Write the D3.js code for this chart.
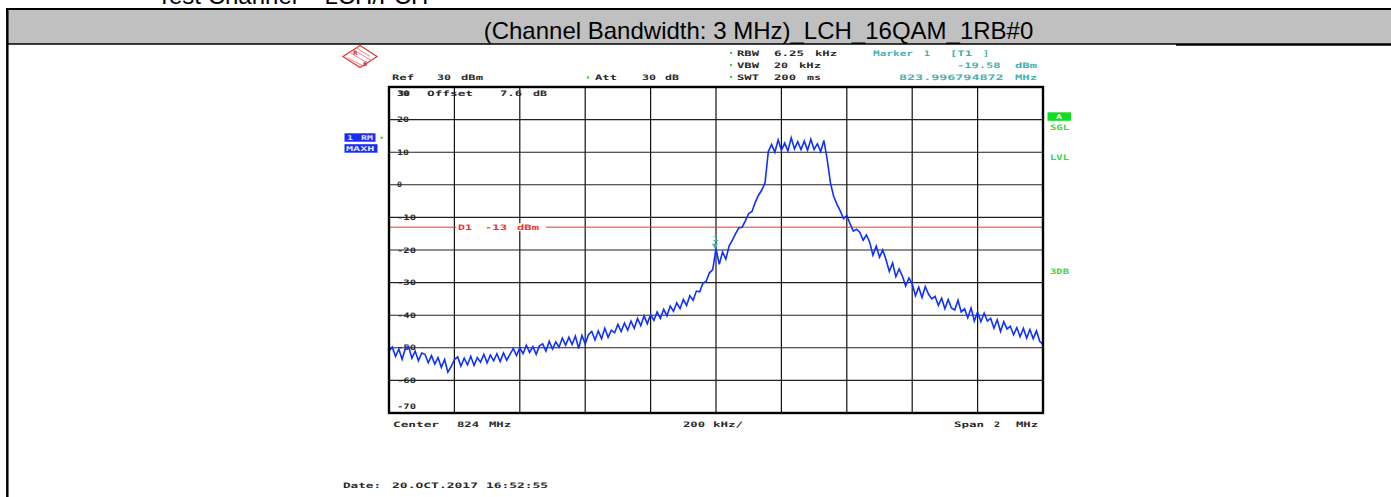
<!DOCTYPE html>
<html><head><meta charset="utf-8">
<script src="https://cdn.jsdelivr.net/npm/d3@7"></script>
<style>html,body{margin:0;padding:0;background:#fff;}svg{display:block;}</style>
</head><body>
<script>
// ---- data ----
const centerMHz = 824;
const spanMHz = 2;
const xGridMHz = [823.2, 823.4, 823.6, 823.8, 824.0, 824.2, 824.4, 824.6, 824.8];
const yGridDbm = [20, 10, 0, -10, -20, -30, -40, -50, -60];
const yTickLabels = ["30", "20", "10", "0", "-10", "-20", "-30", "-40", "-50", "-60", "-70"];
const yTickValues = [30, 20, 10, 0, -10, -20, -30, -40, -50, -60, -70];
const displayLineDbm = -13;
const markerFreqMHz = 823.996794872;
const markerDbm = -19.58;
const traceDbm = [
 -51.0,-49.8,-52.6,-50.4,-53.5,-50.2,-49.6,-53.2,-51.0,-54.0,-51.6,
 -52.0,-54.6,-52.4,-55.0,-53.0,-56.0,-53.6,-57.5,
 -55.8,-53.6,-52.8,-55.6,-53.2,-55.2,-52.6,-55.4,-53.0,-54.4,
 -52.0,-54.6,-52.2,-54.0,-51.8,-54.2,-51.6,-53.8,-52.0,-50.2,
 -52.4,-50.0,-51.8,-49.2,-51.4,-49.6,-52.0,-49.4,-48.8,-51.0,
 -48.0,-50.4,-48.2,-49.8,-47.0,-49.2,
 -46.8,-49.0,-46.4,-50.2,-46.2,-48.8,-46.0,
 -45.0,-47.6,-44.8,-47.2,-44.0,-46.8,-44.6,
 -45.4,-42.8,-45.0,-42.4,-44.6,-41.8,-44.0,
 -41.0,-43.2,-40.2,-42.6,-39.8,-41.6,
 -39.0,-41.0,-38.2,-40.2,-37.2,
 -38.8,-36.2,-38.0,-35.2,-37.0,-34.0,
 -35.4,-32.6,-32.8,-30.2,-29.6,
 -27.0,-26.0,-19.6,
 -24.4,-20.6,-22.8,
 -18.8,-17.0,
 -15.0,-13.2,-13.0,
 -11.0,-8.8,-8.2,
 -5.4,-3.2,
 -1.6,0.6,
 10.2,12.4,10.0,13.8,10.6,12.8,10.4,14.4,11.0,13.2,10.8,13.4,10.6,14.0,10.8,12.6,10.2,13.6,
 7.8,0.6,
 -3.6,-6.0,
 -8.0,-10.4,-9.4,
 -12.0,-14.2,-13.6,
 -14.6,-17.0,-15.4,
 -17.6,-21.6,-18.8,-22.2,-20.0,
 -23.0,-26.6,-24.0,-28.2,-25.8,
 -28.0,-31.0,-28.6,
 -30.4,-34.0,-31.4,-34.6,-31.2,-33.6,-35.0,
 -34.2,-37.0,-34.8,-38.0,-35.2,-37.8,-38.4,-35.4,-39.0,
 -38.0,-40.8,-37.8,-41.8,-39.0,-42.0,-39.4,-41.8,
 -41.0,-44.0,-41.4,-45.0,-42.0,-44.2,
 -43.4,-46.0,-43.8,-46.6,-44.0,-47.0,-44.4,-47.2,-44.8,-48.0,
 -49.0
];
const titleText = "(Channel Bandwidth: 3 MHz)_LCH_16QAM_1RB#0";
const topCutText = "Test Channel = LCH/FCH";

// ---- drawing ----
const W = 1391, H = 497;
const svg = d3.select("body").append("svg").attr("width", W).attr("height", H);
svg.append("rect").attr("width", W).attr("height", H).attr("fill", "#fff");

// Title bar
svg.append("text").attr("x", 157).attr("y", 4).attr("font-family", "Liberation Sans, Arial, sans-serif")
  .attr("font-size", 24).attr("fill", "#000").text(topCutText);
svg.append("rect").attr("x", 8).attr("y", 9).attr("width", W - 8).attr("height", 35).attr("fill", "#c0c0c0");
svg.append("line").attr("x1", 6).attr("x2", W).attr("y1", 9).attr("y2", 9).attr("stroke", "#000").attr("stroke-width", 2);
svg.append("line").attr("x1", 8).attr("x2", 1176).attr("y1", 44).attr("y2", 44).attr("stroke", "#000").attr("stroke-width", 1.5);
svg.append("line").attr("x1", 1176).attr("x2", W).attr("y1", 44.5).attr("y2", 44.5).attr("stroke", "#000").attr("stroke-width", 2.5);
svg.append("line").attr("x1", 7.3).attr("x2", 7.3).attr("y1", 8).attr("y2", H).attr("stroke", "#000").attr("stroke-width", 2.5);
svg.append("text").attr("x", 758.5).attr("y", 38.5).attr("text-anchor", "middle")
  .attr("font-family", "Liberation Sans, Arial, sans-serif").attr("font-size", 24).attr("fill", "#000").text(titleText);

// scales
const x = d3.scaleLinear().domain([centerMHz - spanMHz / 2, centerMHz + spanMHz / 2]).range([389, 1043]);
const y = d3.scaleLinear().domain([-70, 30]).range([413, 87]);
const xi = d3.scaleLinear().domain([0, traceDbm.length - 1]).range(x.domain());

// instrument-style text helper
function rs(txt, tx, ty, color, opt) {
  opt = opt || {};
  const adv = opt.adv || 8;
  const t = svg.append("text").attr("x", tx).attr("y", ty).attr("dy", "0.35em")
    .attr("font-family", "DejaVu Sans Mono, Liberation Mono, monospace").attr("font-weight", "bold")
    .attr("font-size", opt.size || 7.5).attr("fill", color || "#2a2a2a").text(txt);
  if (opt.anchor) t.attr("text-anchor", opt.anchor);
  t.attr("textLength", txt.length * adv - 2).attr("lengthAdjust", "spacingAndGlyphs");
  return t;
}

// grid
const g = svg.append("g");
g.selectAll("line.vg").data(xGridMHz).join("line").attr("class", "vg")
  .attr("x1", d => x(d)).attr("x2", d => x(d)).attr("y1", y(30)).attr("y2", y(-70))
  .attr("stroke", "#111").attr("stroke-width", 1.2);
g.selectAll("line.hg").data(yGridDbm).join("line").attr("class", "hg")
  .attr("x1", x.range()[0]).attr("x2", x.range()[1]).attr("y1", d => y(d)).attr("y2", d => y(d))
  .attr("stroke", "#222").attr("stroke-width", 1.1);

// display line D1
g.append("line").attr("x1", x.range()[0]).attr("x2", x.range()[1]).attr("y1", y(displayLineDbm)).attr("y2", y(displayLineDbm))
  .attr("stroke", "#f23030").attr("stroke-width", 1);

// y tick labels
yTickValues.forEach((v, i) => {
  let ty = y(v);
  if (v === 30) ty = y(30) + 6;
  if (v === -70) ty = y(-70) - 7;
  rs(yTickLabels[i], 397, ty, "#2a2a2a", { adv: 7 });
});

// header texts
rs("Ref", 392, 77.5); rs("30", 437, 77.5); rs("dBm", 461, 77.5);
svg.append("circle").attr("cx", 588).attr("cy", 77.5).attr("r", 1.2).attr("fill", "#3ad03a");
rs("Att", 595, 77.5); rs("30", 642, 77.5); rs("dB", 665, 77.5);
[53, 65, 77].forEach(cy => svg.append("circle").attr("cx", 731).attr("cy", cy).attr("r", 1.2).attr("fill", "#3ad03a"));
rs("RBW", 737, 53); rs("6.25", 774, 53); rs("kHz", 815, 53);
rs("VBW", 737, 65); rs("20", 774, 65); rs("kHz", 799, 65);
rs("SWT", 737, 77); rs("200", 774, 77); rs("ms", 807, 77);
const teal = "#3fb3b3";
rs("Marker", 873, 53, teal, { adv: 7 }); rs("1", 924, 53, teal); rs("[T1", 950, 53, teal); rs("]", 983, 53, teal);
rs("-19.58", 957, 65, teal, { adv: 7.6 }); rs("dBm", 1015, 65, teal);
rs("823.996794872", 899, 77, teal, { adv: 8.2 }); rs("MHz", 1015, 77, teal);

// in-plot header
rs("30", 398, 93.3, "#2a2a2a", { adv: 7 }); rs("Offset", 427, 93.3); rs("7.6", 500, 93.3); rs("dB", 533, 93.3);

// D1 label
svg.append("rect").attr("x", 456).attr("y", y(displayLineDbm) - 4).attr("width", 90).attr("height", 8).attr("fill", "#fff");
rs("D1", 458, y(displayLineDbm), "#f23030"); rs("-13", 485, y(displayLineDbm), "#f23030"); rs("dBm", 517, y(displayLineDbm), "#f23030");

// bottom texts
rs("Center", 393, 424); rs("824", 457, 424); rs("MHz", 489, 424);
rs("200", 683, 424); rs("kHz/", 713, 424);
rs("Span", 954, 424); rs("2", 994, 424); rs("MHz", 1016, 424);
rs("Date:", 343, 485); rs("20.OCT.2017", 392, 485); rs("16:52:55", 486, 485);

// left blue trace boxes
svg.append("rect").attr("x", 344.5).attr("y", 133.3).attr("width", 31).attr("height", 8.4).attr("fill", "#1a2cf0");
svg.append("rect").attr("x", 344.5).attr("y", 144.2).attr("width", 33).attr("height", 8.5).attr("fill", "#1a2cf0");
rs("1", 347, 137.5, "#dfe4ff", { size: 6.5 }); rs("RM", 361, 137.5, "#dfe4ff", { size: 6.5, adv: 7 });
rs("MAXH", 346, 148.5, "#dfe4ff", { size: 6.5, adv: 7.6 });
svg.append("circle").attr("cx", 381.7).attr("cy", 137.7).attr("r", 1.2).attr("fill", "#3ad03a");

// right green annotations
const green = "#3ad83a";
svg.append("rect").attr("x", 1047.5).attr("y", 112.3).attr("width", 23.5).attr("height", 8.5).attr("fill", "#10dc20");
rs("A", 1056, 116.8, "#fff", { size: 6.5 });
rs("SGL", 1050, 127.3, green, { adv: 7 });
rs("LVL", 1050, 157.7, green, { adv: 7 });
rs("3DB", 1050, 271, green, { adv: 7 });

// R&S logo
const logo = svg.append("g").attr("transform", "translate(360,56.5)");
logo.append("path").attr("d", "M-17,0 L0,-11 L17,0 L0,11 Z").attr("fill", "none").attr("stroke", "#e23a3a").attr("stroke-width", 1.3);
logo.append("path").attr("d", "M-10,-4 L8,7 M-6,-6.5 L12,4.5 M-12,1.5 L4,10 M-4,-9 L10,0").attr("stroke", "#e67a7a").attr("stroke-width", 0.9);
logo.append("text").attr("x", -7).attr("y", -2).attr("font-size", 6).attr("font-family", "DejaVu Sans").attr("font-weight", "bold").attr("fill", "#d33").text("R");
logo.append("text").attr("x", 3).attr("y", 9).attr("font-size", 6).attr("font-family", "DejaVu Sans").attr("font-weight", "bold").attr("fill", "#d33").text("S");

// trace
const line = d3.line().x((d, i) => x(xi(i))).y(d => y(d)).curve(d3.curveLinear);
svg.append("path").datum(traceDbm).attr("d", line).attr("fill", "none")
  .attr("stroke", "#1030ff").attr("stroke-width", 1.6).attr("stroke-linejoin", "miter");

// marker
const mx = x(markerFreqMHz), my = y(markerDbm);
svg.append("path").attr("d", `M${mx - 3},${my - 5} L${mx + 3},${my - 5} L${mx},${my} Z`).attr("fill", teal);
rs("1", mx - 2.5, my - 10, teal, { size: 7 });

// frame
svg.append("rect").attr("x", x.range()[0]).attr("y", y(30)).attr("width", x.range()[1] - x.range()[0]).attr("height", y(-70) - y(30))
  .attr("fill", "none").attr("stroke", "#000").attr("stroke-width", 2.4);
</script>
</body></html>
